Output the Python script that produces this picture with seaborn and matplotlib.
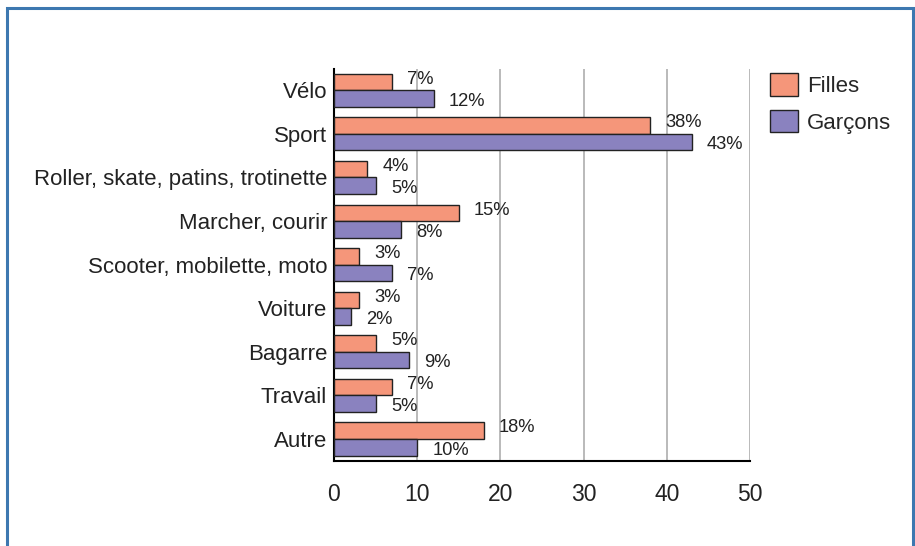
import seaborn as sns
import pandas as pd
import matplotlib.pyplot as plt
from matplotlib.patches import Rectangle

categories = ["Vélo", "Sport", "Roller, skate, patins, trotinette", "Marcher, courir",
              "Scooter, mobilette, moto", "Voiture", "Bagarre", "Travail", "Autre"]
filles = [7, 38, 4, 15, 3, 3, 5, 7, 18]
garcons = [12, 43, 5, 8, 7, 2, 9, 5, 10]
groups = ["Filles", "Garçons"]
xticks = [0, 10, 20, 30, 40, 50]

df = pd.DataFrame({
    "cat": categories * 2,
    "val": filles + garcons,
    "grp": [groups[0]] * len(filles) + [groups[1]] * len(garcons),
})

sns.set_style("white")
plt.rcParams['font.family'] = ['Liberation Sans', 'DejaVu Sans']

fig = plt.figure(figsize=(9.15, 5.46), dpi=100)
ax = fig.add_axes([0.365, 0.156, 0.4547, 0.7185])

palette = {"Filles": "#f5967a", "Garçons": "#8a82bf"}
sns.barplot(data=df, y="cat", x="val", hue="grp", order=categories, hue_order=groups,
            palette=palette, orient="h", width=0.76, edgecolor="#222222", linewidth=1,
            saturation=1, ax=ax, zorder=3)

# Filles labels sit slightly above their bar, Garçons slightly below
for cont, dy in zip(ax.containers, [-2, 2]):
    texts = ax.bar_label(cont, labels=[f"{int(v)}%" for v in cont.datavalues], padding=11,
                         fontsize=13.2, color="#222222")
    for t in texts:
        x, y = t.xyann
        t.xyann = (x, y - dy)

ax.set_xlim(0, 50)
ax.set_xticks(xticks)
ax.set_ylim(8.5, -0.5)
ax.xaxis.grid(True, color="#b4b4b4", linewidth=1.3, zorder=0)
ax.yaxis.grid(False)
ax.set_axisbelow(True)
ax.set_xlabel("")
ax.set_ylabel("")
for s in ["top", "right"]:
    ax.spines[s].set_visible(False)
for s in ["left", "bottom"]:
    ax.spines[s].set_color("black")
    ax.spines[s].set_linewidth(1.5)
ax.tick_params(axis="x", labelsize=16.5, pad=16, length=0, colors="#222222")
ax.tick_params(axis="y", labelsize=16, pad=5, direction="in", length=8, width=1.2,
               left=True, colors="black", labelcolor="#222222")

leg = ax.legend(loc="upper left", bbox_to_anchor=(1.027, 1.01), frameon=False,
                fontsize=16, handlelength=1.25, handleheight=1.15,
                labelspacing=0.6, handletextpad=0.4, borderaxespad=0)

# blue frame around the figure
fig.patches.append(Rectangle((7 / 915, -0.05), 905.5 / 915, (546 - 8.5) / 546 + 0.05,
                             transform=fig.transFigure, fill=False,
                             edgecolor="#3d78b0", linewidth=2.2))

fig.savefig("out.png", dpi=100)
